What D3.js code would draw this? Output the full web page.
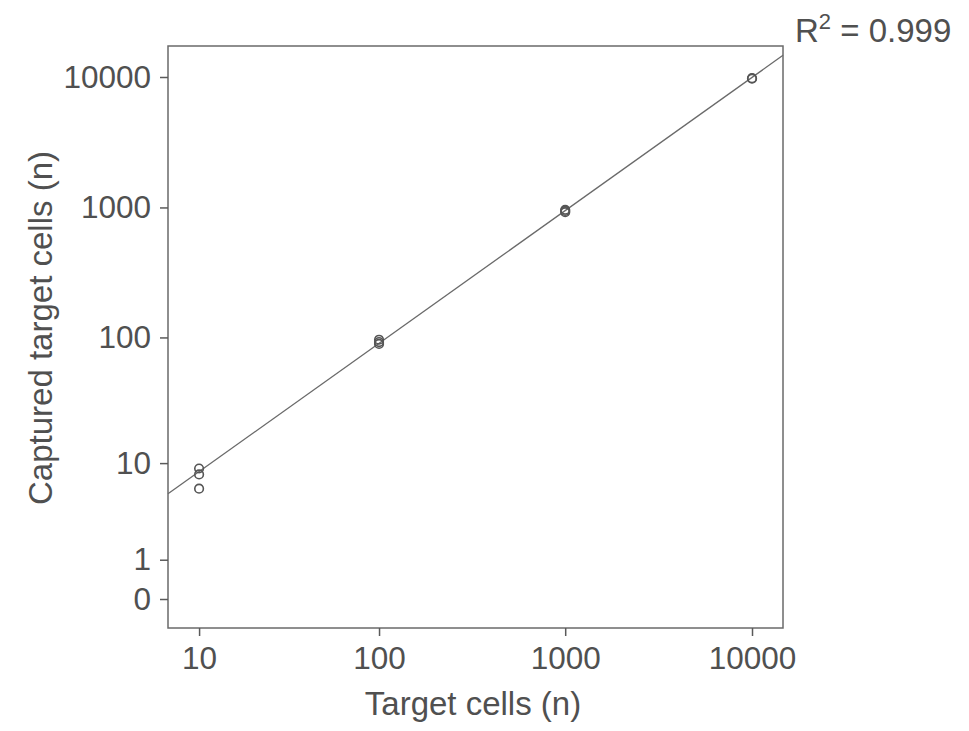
<!DOCTYPE html>
<html><head><meta charset="utf-8">
<script src="https://cdn.jsdelivr.net/npm/d3@7"></script>
<style>
body{margin:0;background:#fff;}
text{font-family:"Liberation Sans",Arial,Helvetica,sans-serif;fill:#505050;}
</style></head><body>
<svg id="c" width="969" height="731"></svg>
<script>
const xTicks = [10, 100, 1000, 10000];
const yTicks = [0, 1, 10, 100, 1000, 10000];
const pointX = [10, 10, 10, 100, 100, 100, 1000, 1000, 1000, 10000, 10000];
const pointY = [9, 8, 6, 96, 92, 89, 960, 940, 920, 9800, 9700];
const fitIntercept = -0.087; // log10(y+1) = a + b*log10(x+1)
const fitSlope = 1.021;
const r2Label = "0.999";

const svg = d3.select("#c");
const L = 168, R = 783, T = 46, B = 628;
const x = d3.scaleSymlog().constant(1).domain([6.5, 14650]).range([L, R]);
const y = d3.scaleSymlog().constant(1).domain([-0.668, 17280]).range([B, T]);

const gray = "#5a5a5a";

// frame
svg.append("rect").attr("x", L).attr("y", T).attr("width", R - L).attr("height", B - T)
  .attr("fill", "none").attr("stroke", "#6a6a6a").attr("stroke-width", 1.5);

// axes
const ax = svg.append("g").attr("transform", `translate(0,${B})`)
  .call(d3.axisBottom(x).tickValues(xTicks).tickSize(8).tickPadding(11).tickFormat(d3.format("d")));
const ay = svg.append("g").attr("transform", `translate(${L},0)`)
  .call(d3.axisLeft(y).tickValues(yTicks).tickSize(8).tickPadding(9).tickFormat(d3.format("d")));
[ax, ay].forEach(g => {
  g.select(".domain").remove();
  g.selectAll(".tick line").attr("stroke", gray).attr("stroke-width", 1.5);
  g.selectAll(".tick text").style("font-size", "31.5px").attr("fill", "#505050");
});

// fit line
const fx = d => Math.pow(10, fitIntercept + fitSlope * Math.log10(d + 1)) - 1;
const xd = x.domain();
svg.append("line")
  .attr("x1", x(xd[0])).attr("y1", y(fx(xd[0])))
  .attr("x2", x(xd[1])).attr("y2", y(fx(xd[1])))
  .attr("stroke", "#6a6a6a").attr("stroke-width", 1.3);

// points
svg.append("g").selectAll("circle").data(pointX.map((d, i) => [d, pointY[i]])).join("circle")
  .attr("cx", d => x(d[0])).attr("cy", d => y(d[1])).attr("r", 4.3)
  .attr("fill", "none").attr("stroke", "#555").attr("stroke-width", 1.6);

// labels
svg.append("text").attr("x", 473).attr("y", 715).attr("text-anchor", "middle")
  .style("font-size", "33px").text("Target cells (n)");
svg.append("text").attr("transform", `translate(52,328) rotate(-90)`).attr("text-anchor", "middle")
  .style("font-size", "33px").text("Captured target cells (n)");

const rt = svg.append("text").attr("x", 795).attr("y", 42).style("font-size", "33px");
rt.append("tspan").text("R");
rt.append("tspan").attr("dy", -13).style("font-size", "22px").text("2");
rt.append("tspan").attr("dy", 13).text(" = " + r2Label);
</script>
</body></html>
